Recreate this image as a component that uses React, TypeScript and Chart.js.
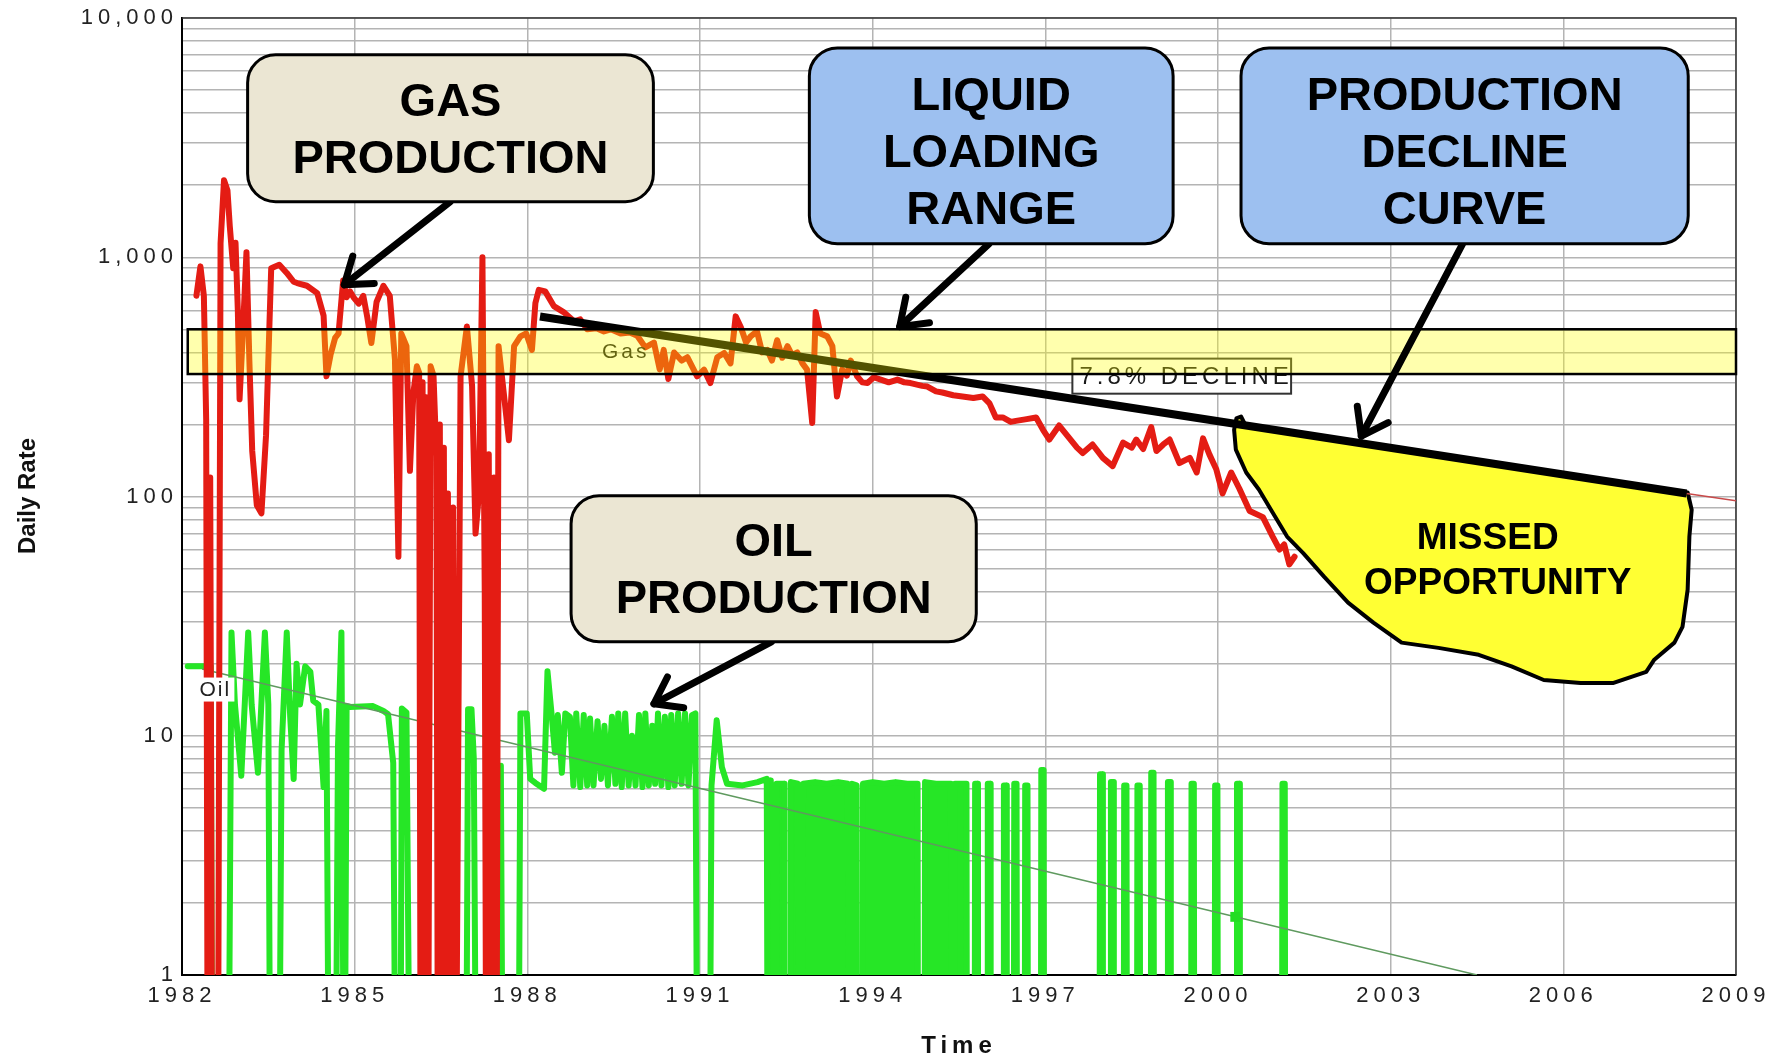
import { useEffect, useRef } from 'react';
import { Chart, registerables } from 'chart.js';

Chart.register(...registerables);

// ---------------- axes ----------------
const xTickYears = [1982, 1985, 1988, 1991, 1994, 1997, 2000, 2003, 2006, 2009];
const yDecades = [1, 10, 100, 1000, 10000];
const yDecadeLabels = ['1', '10', '100', '1,000', '10,000'];
const yMinorMultipliers = [1, 2, 3, 4, 5, 6, 7, 8, 9];

// ---------------- series (year, daily rate) ----------------
const gasRate: [number, number][] = [
  [1982.25, 690], [1982.32, 916], [1982.38, 690], [1982.42, 210], [1982.45, 0.1], [1982.49, 120],
  [1982.53, 0.1], [1982.62, 0.1], [1982.67, 1146], [1982.73, 2100], [1982.79, 1900], [1982.83, 1350],
  [1982.89, 900], [1982.93, 1150], [1982.97, 600], [1983.0, 255], [1983.06, 500], [1983.12, 1050],
  [1983.17, 373], [1983.22, 155], [1983.3, 92], [1983.38, 85], [1983.46, 180], [1983.52, 530],
  [1983.55, 900], [1983.69, 930], [1983.82, 860], [1983.94, 790], [1984.0, 780], [1984.17, 760],
  [1984.35, 708], [1984.46, 570], [1984.51, 318], [1984.58, 390], [1984.66, 460], [1984.72, 480],
  [1984.8, 800], [1984.86, 680], [1984.92, 720], [1984.98, 680], [1985.07, 640], [1985.15, 690],
  [1985.22, 560], [1985.29, 438], [1985.38, 650], [1985.5, 760], [1985.61, 690], [1985.7, 373],
  [1985.76, 56], [1985.81, 480], [1985.9, 425], [1985.96, 128], [1986.02, 271], [1986.08, 350],
  [1986.12, 330], [1986.15, 0.1], [1986.18, 300], [1986.21, 0.1], [1986.24, 260], [1986.27, 0.1],
  [1986.32, 350], [1986.37, 320], [1986.42, 147], [1986.45, 0.1], [1986.48, 200], [1986.51, 0.1],
  [1986.55, 160], [1986.58, 0.1], [1986.62, 103], [1986.66, 0.1], [1986.71, 90], [1986.75, 0.1],
  [1986.84, 318], [1986.95, 514], [1987.04, 290], [1987.1, 70], [1987.16, 103], [1987.22, 1000],
  [1987.26, 40], [1987.29, 0.1], [1987.33, 150], [1987.37, 0.1], [1987.42, 120], [1987.46, 0.1],
  [1987.5, 425], [1987.59, 271], [1987.68, 172], [1987.77, 425],
  [1987.88, 467], [1987.98, 480], [1988.08, 410], [1988.14, 644], [1988.2, 731], [1988.31, 720],
  [1988.46, 625], [1988.63, 590], [1988.81, 540], [1988.92, 550], [1989.04, 500], [1989.2, 505],
  [1989.33, 490], [1989.45, 500], [1989.62, 480], [1989.78, 485], [1989.91, 470], [1990.05, 420],
  [1990.2, 440], [1990.3, 340], [1990.37, 410], [1990.45, 310], [1990.55, 400], [1990.68, 370],
  [1990.78, 382], [1990.95, 318], [1991.07, 339], [1991.18, 298], [1991.3, 382], [1991.42, 398],
  [1991.53, 360], [1991.62, 566], [1991.71, 510], [1991.8, 440], [1991.88, 467], [1991.99, 490],
  [1992.08, 400], [1992.17, 410], [1992.25, 370], [1992.34, 450], [1992.43, 380], [1992.52, 425],
  [1992.6, 390], [1992.69, 400], [1992.78, 360], [1992.86, 339], [1992.95, 203], [1993.01, 590],
  [1993.09, 480], [1993.21, 467], [1993.3, 425], [1993.38, 262], [1993.47, 339], [1993.55, 320],
  [1993.62, 370], [1993.73, 318], [1993.82, 300], [1993.91, 298], [1994.02, 315], [1994.14, 308],
  [1994.28, 300], [1994.43, 308], [1994.55, 300], [1994.66, 298], [1994.86, 290], [1994.95, 288],
  [1995.1, 275], [1995.21, 272], [1995.4, 265], [1995.56, 262], [1995.75, 258], [1995.91, 262],
  [1996.03, 245], [1996.14, 214], [1996.26, 214], [1996.4, 205], [1996.49, 207], [1996.65, 210],
  [1996.84, 214], [1996.96, 190], [1997.07, 173], [1997.24, 198], [1997.42, 175], [1997.55, 160],
  [1997.65, 152], [1997.82, 165], [1998.0, 145], [1998.17, 134], [1998.35, 168], [1998.5, 160],
  [1998.58, 173], [1998.7, 158], [1998.84, 195], [1998.93, 155], [1999.05, 165], [1999.16, 173],
  [1999.33, 138], [1999.51, 145], [1999.63, 126], [1999.74, 175], [1999.85, 150], [1999.97, 130],
  [2000.08, 103], [2000.23, 126], [2000.37, 108], [2000.55, 87], [2000.78, 82], [2000.95, 68],
  [2001.07, 60], [2001.15, 63], [2001.24, 52], [2001.33, 56],
];

const oilRateEarly: [number, number][] = [
  [1982.1, 19.5], [1982.5, 19.5], [1982.53, 0.1], [1982.8, 0.1], [1982.86, 27], [1982.92, 13.5],
  [1983.03, 6.8], [1983.15, 27], [1983.21, 13.5], [1983.32, 7], [1983.44, 27], [1983.5, 13.5],
  [1983.54, 0.1], [1983.68, 0.1], [1983.73, 8.7], [1983.82, 27], [1983.88, 12], [1983.94, 6.6],
  [1983.99, 20], [1984.05, 13.5], [1984.14, 19.5], [1984.23, 18.5], [1984.28, 14], [1984.37, 13.5],
  [1984.46, 6.1], [1984.51, 12.7], [1984.56, 0.1], [1984.66, 0.1], [1984.71, 9], [1984.77, 27],
  [1984.82, 0.1], [1984.86, 13.3], [1984.92, 13.2], [1985.32, 13.3], [1985.5, 12.7], [1985.58, 12.3],
  [1985.67, 7.7], [1985.72, 0.1], [1985.79, 0.1], [1985.82, 13], [1985.9, 12.5], [1985.97, 0.1],
  [1986.93, 0.1], [1986.97, 12.9], [1987.03, 12.9], [1987.07, 8], [1987.12, 0.1], [1987.5, 0.1],
  [1987.54, 7.5], [1987.58, 0.1], [1987.84, 0.1], [1987.88, 12.4], [1987.99, 12.4], [1988.05, 6.6],
  [1988.14, 6.35], [1988.29, 6.0], [1988.35, 18.6], [1988.42, 12.4], [1988.48, 8.5], [1988.53, 12.2],
  [1988.6, 7.0], [1988.66, 12.4], [1988.74, 12.0], [1988.8, 6.2], [1988.85, 12.4], [1988.92, 6.1],
  [1988.98, 12.2], [1989.04, 6.2], [1989.09, 11.8], [1989.15, 6.2], [1989.22, 11.5], [1989.28, 6.6],
  [1989.34, 11.0], [1989.4, 6.2], [1989.47, 12.0], [1989.53, 6.3], [1989.58, 12.4], [1989.64, 6.1],
  [1989.7, 12.4], [1989.76, 6.2], [1989.82, 10.0], [1989.88, 6.2], [1989.94, 12.2], [1990.0, 6.1],
  [1990.05, 12.4], [1990.11, 6.2], [1990.17, 11.0], [1990.22, 6.3], [1990.27, 12.4], [1990.33, 6.2],
  [1990.39, 12.0], [1990.45, 6.1], [1990.5, 12.2], [1990.56, 6.2], [1990.62, 12.4], [1990.68, 6.3],
  [1990.74, 12.4], [1990.8, 6.2], [1990.86, 12.2], [1990.92, 12.4], [1990.96, 0.1], [1991.16, 0.1],
  [1991.2, 6.2], [1991.29, 11.6], [1991.38, 7.4], [1991.47, 6.3], [1991.74, 6.2], [1992.0, 6.4],
  [1992.16, 6.6], [1992.18, 0.1],
];

const oilRateLate: [number, number][] = [
  [1992.18, 0.1], [1992.19, 6.5], [1992.22, 6.5], [1992.23, 0.1],
  [1992.32, 0.1], [1992.33, 6.3], [1992.46, 6.3], [1992.47, 0.1],
  [1992.57, 0.1], [1992.58, 6.4], [1992.7, 6.3], [1992.71, 0.1],
  [1992.78, 0.1], [1992.79, 6.3], [1993.0, 6.4], [1993.2, 6.3], [1993.4, 6.4], [1993.57, 6.3], [1993.58, 0.1],
  [1993.63, 0.1], [1993.64, 6.3], [1993.72, 6.2], [1993.73, 0.1],
  [1993.82, 0.1], [1993.83, 6.3], [1994.0, 6.4], [1994.2, 6.3], [1994.4, 6.4], [1994.6, 6.3], [1994.78, 6.3], [1994.79, 0.1],
  [1994.9, 0.1], [1994.91, 6.4], [1995.1, 6.3], [1995.36, 6.3], [1995.37, 0.1],
  [1995.42, 0.1], [1995.43, 6.3], [1995.63, 6.3], [1995.64, 0.1],
  [1995.77, 0.1], [1995.78, 6.3], [1995.82, 6.3], [1995.83, 0.1],
  [1995.99, 0.1], [1996.0, 6.3], [1996.04, 6.3], [1996.05, 0.1],
  [1996.27, 0.1], [1996.28, 6.2], [1996.32, 6.2], [1996.33, 0.1],
  [1996.45, 0.1], [1996.46, 6.3], [1996.5, 6.3], [1996.51, 0.1],
  [1996.64, 0.1], [1996.65, 6.2], [1996.69, 6.2], [1996.7, 0.1],
  [1996.92, 0.1], [1996.93, 7.2], [1996.97, 7.2], [1996.98, 0.1],
  [1997.94, 0.1], [1997.95, 6.9], [1997.99, 6.9], [1998.0, 0.1],
  [1998.13, 0.1], [1998.14, 6.4], [1998.18, 6.4], [1998.19, 0.1],
  [1998.36, 0.1], [1998.37, 6.2], [1998.41, 6.2], [1998.42, 0.1],
  [1998.59, 0.1], [1998.6, 6.2], [1998.64, 6.2], [1998.65, 0.1],
  [1998.83, 0.1], [1998.84, 7.0], [1998.88, 7.0], [1998.89, 0.1],
  [1999.12, 0.1], [1999.13, 6.4], [1999.17, 6.4], [1999.18, 0.1],
  [1999.53, 0.1], [1999.54, 6.3], [1999.58, 6.3], [1999.59, 0.1],
  [1999.94, 0.1], [1999.95, 6.2], [1999.99, 6.2], [2000.0, 0.1],
  [2000.32, 0.1], [2000.33, 6.3], [2000.37, 6.3], [2000.38, 0.1],
  [2001.11, 0.1], [2001.12, 6.3], [2001.16, 6.3], [2001.17, 0.1],
];

const gasDeclineCurve: [number, number][] = [[1988.22, 565], [2008.14, 103]];
const gasDeclineTail: [number, number][] = [[2008.14, 103], [2009, 96]];
const oilDeclineCurve: [number, number][] = [[1982.35, 19], [2000.3, 1.75], [2004.5, 1]];
const liquidLoadingYears = [1982.1, 2009];
const liquidLoadingRates = [325, 500];
const missedOpportunityOutline: [number, number][] = [
  [2000.29, 196], [2000.32, 212], [2000.4, 216], [2000.47, 200], [2008.16, 104], [2008.23, 88],
  [2008.19, 68], [2008.16, 40.8], [2008.07, 28.5], [2007.93, 24.5], [2007.58, 20.8], [2007.44, 18.5],
  [2006.86, 16.6], [2006.3, 16.6], [2005.66, 17.1], [2005.1, 19.5], [2004.53, 21.8], [2003.83, 23.3],
  [2003.19, 24.5], [2002.7, 29.7], [2002.26, 36], [2001.85, 46], [2001.48, 58], [2001.2, 68],
  [2000.92, 88], [2000.71, 107], [2000.49, 126], [2000.31, 157], [2000.28, 190],
];

// ---------------- annotation layout ----------------
const FONT = '"Liberation Sans", Arial, sans-serif';
const BEIGE = '#ebe6d3';
const BLUE = '#9dc0f0';
const callouts = [
  { lines: ['GAS', 'PRODUCTION'], x0: 1983.14, x1: 1990.19, y0: 7020, y1: 1706, fill: BEIGE, textDy: 3,
    from: [1986.66, 1706], to: [1984.82, 767] },
  { lines: ['LIQUID', 'LOADING', 'RANGE'], x0: 1992.9, x1: 1999.22, y0: 7500, y1: 1138, fill: BLUE, textDy: 8,
    from: [1996.02, 1138], to: [1994.47, 513] },
  { lines: ['PRODUCTION', 'DECLINE', 'CURVE'], x0: 2000.4, x1: 2008.17, y0: 7500, y1: 1138, fill: BLUE, textDy: 8,
    from: [2004.25, 1138], to: [2002.49, 179] },
  { lines: ['OIL', 'PRODUCTION'], x0: 1988.76, x1: 1995.8, y0: 100.8, y1: 24.7, fill: BEIGE, textDy: 3,
    from: [1992.24, 24.7], to: [1990.2, 13.6] },
];
const GAS_INDEX = 2;

const xy = (pts: [number, number][]) => pts.map(([x, y]) => ({ x, y }));

function toPx(chart: any, x: number, y: number): [number, number] {
  return [chart.scales.x.getPixelForValue(x), chart.scales.y.getPixelForValue(y)];
}

function drawArrow(ctx: CanvasRenderingContext2D, x1: number, y1: number, x2: number, y2: number) {
  ctx.save();
  ctx.strokeStyle = '#000';
  ctx.lineWidth = 7;
  ctx.lineCap = 'round';
  ctx.lineJoin = 'round';
  ctx.beginPath();
  ctx.moveTo(x1, y1);
  ctx.lineTo(x2, y2);
  ctx.stroke();
  const ang = Math.atan2(y2 - y1, x2 - x1);
  const L = 30;
  const s = 0.62;
  ctx.beginPath();
  ctx.moveTo(x2 - L * Math.cos(ang - s), y2 - L * Math.sin(ang - s));
  ctx.lineTo(x2, y2);
  ctx.lineTo(x2 - L * Math.cos(ang + s), y2 - L * Math.sin(ang + s));
  ctx.stroke();
  ctx.restore();
}

const overlayPlugin = {
  id: 'overlay',
  beforeDraw(chart: any) {
    chart.ctx.letterSpacing = '5px';
  },
  beforeDatasetsDraw(chart: any) {
    const ctx = chart.ctx;
    ctx.letterSpacing = '0px';
    const { left, right, top, bottom } = chart.chartArea;
    ctx.save();
    ctx.strokeStyle = '#333';
    ctx.lineWidth = 1.5;
    ctx.beginPath();
    ctx.moveTo(left, top);
    ctx.lineTo(right, top);
    ctx.lineTo(right, bottom);
    ctx.stroke();
    ctx.restore();
  },
  afterDatasetDraw(chart: any, args: any) {
    if (args.index !== GAS_INDEX) return;
    const ctx = chart.ctx;
    ctx.save();
    ctx.letterSpacing = '0px';
    ctx.beginPath();
    missedOpportunityOutline.forEach(([x, y], i) => {
      const [px, py] = toPx(chart, x, y);
      if (i === 0) ctx.moveTo(px, py);
      else ctx.lineTo(px, py);
    });
    ctx.closePath();
    ctx.fillStyle = '#ffff33';
    ctx.fill();
    ctx.strokeStyle = '#000';
    ctx.lineWidth = 4;
    ctx.lineJoin = 'round';
    ctx.stroke();
    const [cx, cy] = toPx(chart, 2004.79, 53.7);
    ctx.fillStyle = '#000';
    ctx.font = `bold 37px ${FONT}`;
    ctx.textAlign = 'center';
    ctx.textBaseline = 'middle';
    ctx.fillText('MISSED', cx - 6, cy - 22);
    ctx.fillText('OPPORTUNITY', cx + 4, cy + 23);
    ctx.restore();
  },
  afterDatasetsDraw(chart: any) {
    const ctx = chart.ctx;
    ctx.save();
    // "Gas" series label
    ctx.letterSpacing = '3px';
    ctx.font = `21px ${FONT}`;
    ctx.fillStyle = '#1a1a1a';
    ctx.textAlign = 'center';
    ctx.textBaseline = 'middle';
    const [gx, gy] = toPx(chart, 1989.71, 400);
    ctx.fillText('Gas', gx, gy);
    // decline label box
    const [dx0, dy0] = toPx(chart, 1997.47, 377);
    const [dx1, dy1] = toPx(chart, 2001.27, 269);
    ctx.fillStyle = '#fff';
    ctx.fillRect(dx0, dy0, dx1 - dx0, dy1 - dy0);
    ctx.strokeStyle = '#333';
    ctx.lineWidth = 2;
    ctx.strokeRect(dx0, dy0, dx1 - dx0, dy1 - dy0);
    ctx.letterSpacing = '4px';
    ctx.font = `24px ${FONT}`;
    ctx.fillStyle = '#1a1a1a';
    ctx.textAlign = 'left';
    ctx.fillText('7.8% DECLINE', dx0 + 7, (dy0 + dy1) / 2 + 1);
    // "Oil" series label
    const [ox, oy] = toPx(chart, 1982.25, 15.6);
    ctx.fillStyle = '#fff';
    ctx.fillRect(ox, oy - 12, 38, 24);
    ctx.letterSpacing = '2px';
    ctx.font = `21px ${FONT}`;
    ctx.fillStyle = '#222';
    ctx.fillText('Oil', ox + 3, oy + 1);
    // liquid loading band
    const [bx0, by0] = toPx(chart, liquidLoadingYears[0], liquidLoadingRates[1]);
    const [bx1, by1] = toPx(chart, liquidLoadingYears[1], liquidLoadingRates[0]);
    ctx.fillStyle = 'rgba(255,255,0,0.32)';
    ctx.fillRect(bx0, by0, bx1 - bx0, by1 - by0);
    ctx.strokeStyle = '#000';
    ctx.lineWidth = 2.5;
    ctx.strokeRect(bx0, by0, bx1 - bx0, by1 - by0);
    // callouts
    ctx.letterSpacing = '0px';
    callouts.forEach((c) => {
      const [ax0, ay0] = toPx(chart, c.from[0], c.from[1]);
      const [ax1, ay1] = toPx(chart, c.to[0], c.to[1]);
      drawArrow(ctx, ax0, ay0, ax1, ay1);
    });
    callouts.forEach((c) => {
      const [x0, y0] = toPx(chart, c.x0, c.y0);
      const [x1, y1] = toPx(chart, c.x1, c.y1);
      ctx.beginPath();
      ctx.roundRect(x0, y0, x1 - x0, y1 - y0, 28);
      ctx.fillStyle = c.fill;
      ctx.fill();
      ctx.strokeStyle = '#000';
      ctx.lineWidth = 3;
      ctx.stroke();
      ctx.fillStyle = '#000';
      ctx.font = `bold 47px ${FONT}`;
      ctx.textAlign = 'center';
      ctx.textBaseline = 'middle';
      const cx = (x0 + x1) / 2;
      const cy = (y0 + y1) / 2 + c.textDy;
      const gap = 57;
      c.lines.forEach((t, i) => {
        ctx.fillText(t, cx, cy + (i - (c.lines.length - 1) / 2) * gap);
      });
    });
    ctx.restore();
  },
  afterDraw(chart: any) {
    const ctx = chart.ctx;
    ctx.save();
    ctx.letterSpacing = '0px';
    ctx.translate(28, 496);
    ctx.rotate(-Math.PI / 2);
    ctx.font = `bold 24px ${FONT}`;
    ctx.fillStyle = '#111';
    ctx.textAlign = 'center';
    ctx.textBaseline = 'middle';
    ctx.fillText('Daily Rate', 0, 0);
    ctx.restore();
  },
};

export default function App() {
  const ref = useRef<HTMLCanvasElement>(null);
  useEffect(() => {
    document.body.style.margin = '0';
    const canvas = ref.current as HTMLCanvasElement;
    const yTickValues: number[] = [];
    yDecades.slice(0, -1).forEach((d) => yMinorMultipliers.forEach((m) => yTickValues.push(m * d)));
    yTickValues.push(yDecades[yDecades.length - 1]);

    const tickFont = { family: FONT, size: 22 };
    const chart = new Chart(canvas, {
      type: 'line',
      data: {
        datasets: [
          { label: 'Decline', data: xy(gasDeclineCurve), borderColor: '#000', borderWidth: 8, order: 0,
            borderCapStyle: 'butt', pointRadius: 0, clip: 0 },
          { label: 'Decline tail', data: xy(gasDeclineTail), borderColor: '#c84a4a', borderWidth: 1.5, order: 0,
            pointRadius: 0, clip: 0 },
          { label: 'Gas', data: xy(gasRate), borderColor: '#e41c14', borderWidth: 6, order: 1,
            borderJoinStyle: 'round', borderCapStyle: 'round', pointRadius: 0, clip: 0 },
          { label: 'Oil decline', data: xy(oilDeclineCurve), borderColor: '#5f9a5f', borderWidth: 1.5, order: 2,
            pointRadius: [0, 7, 0], pointStyle: 'rect', pointBackgroundColor: '#22dd22', pointBorderWidth: 0, clip: 0 },
          { label: 'Oil', data: xy(oilRateEarly), borderColor: '#26e626', borderWidth: 6, order: 3,
            borderJoinStyle: 'round', borderCapStyle: 'round', pointRadius: 0, clip: 0 },
          { label: 'Oil late', data: xy(oilRateLate), borderColor: '#26e626', backgroundColor: '#26e626',
            fill: 'start', borderWidth: 6, order: 3, borderJoinStyle: 'round', borderCapStyle: 'round',
            pointRadius: 0, clip: 0 },
        ],
      },
      options: {
        animation: false,
        responsive: false,
        devicePixelRatio: 1,
        layout: { padding: { left: 0, right: 51, top: 18, bottom: 0 } },
        plugins: { legend: { display: false }, tooltip: { enabled: false } },
        elements: { line: { tension: 0 } },
        scales: {
          x: {
            type: 'linear',
            min: xTickYears[0],
            max: xTickYears[xTickYears.length - 1],
            afterBuildTicks: (s: any) => { s.ticks = xTickYears.map((v) => ({ value: v })); },
            afterFit: (s: any) => { s.height = 86; },
            ticks: { autoSkip: false, maxRotation: 0, padding: 8, font: tickFont, color: '#222',
              callback: (v: any) => String(v) },
            grid: { color: '#b4b4b4', lineWidth: 1.5, drawTicks: false },
            border: { color: '#000', width: 2 },
            title: { display: true, text: 'Time', color: '#111', font: { family: FONT, size: 24, weight: 'bold' },
              padding: { top: 0, bottom: 0 } },
          },
          y: {
            type: 'logarithmic',
            min: yDecades[0],
            max: yDecades[yDecades.length - 1],
            afterBuildTicks: (s: any) => { s.ticks = yTickValues.map((v) => ({ value: v })); },
            afterFit: (s: any) => { s.width = 182; },
            ticks: { autoSkip: false, padding: 4, font: tickFont, color: '#222',
              callback: (v: any) => {
                const i = yDecades.indexOf(Number(v));
                return i >= 0 ? yDecadeLabels[i] : '';
              } },
            grid: { color: '#b4b4b4', lineWidth: 1.5, drawTicks: false },
            border: { color: '#000', width: 2 },
          },
        },
      } as any,
      plugins: [overlayPlugin as any],
    } as any);
    return () => chart.destroy();
  }, []);
  return (
    <canvas ref={ref} width={1787} height={1061} style={{ display: 'block', width: 1787, height: 1061 }} />
  );
}
